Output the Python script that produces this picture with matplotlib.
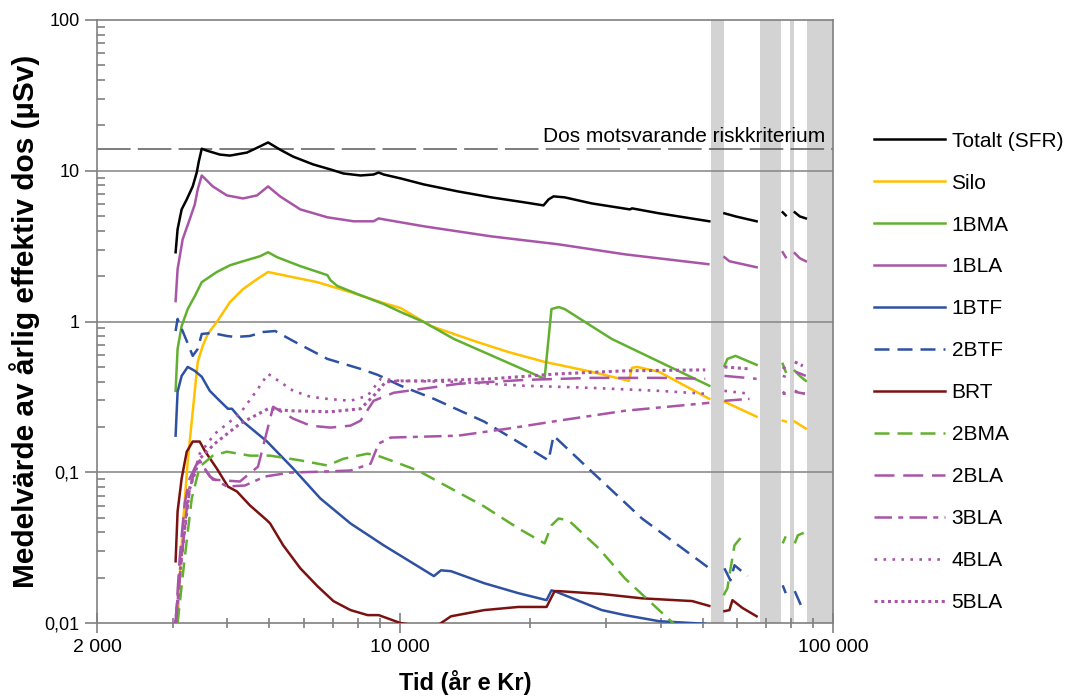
import numpy as np
import matplotlib
matplotlib.use("Agg")
import matplotlib.pyplot as plt
from matplotlib.ticker import FixedLocator, FixedFormatter, NullFormatter

plt.rcParams['font.family'] = ['Liberation Sans', 'DejaVu Sans']

nan = np.nan

# --- data (år e Kr, µSv); nan = gap where the line is interrupted ---
totalt_x = [3038, 3070, 3137, 3223, 3327, 3399, 3436, 3491, 3585, 3843, 4055, 4440, 4758, 4966, 5293,
            5675, 6318, 6917, 7413, 8120, 8702, 8939, 9181, 10050, 11370, 13630, 16260, 19400, 21470,
            22050, 22650, 24020, 27750, 33990, 34360, 39680, 51830, nan, 56160, 59560, 66640, nan,
            76560, 77800, nan, 81620, 83820, 86560]
totalt_y = [2.88, 4.09, 5.54, 6.45, 7.87, 9.73, 11.5, 14.0, 13.6, 12.8, 12.6, 13.2, 14.5, 15.4, 13.8,
            12.4, 11.0, 10.2, 9.59, 9.30, 9.44, 9.73, 9.44, 8.89, 8.11, 7.29, 6.66, 6.17, 5.89,
            6.45, 6.76, 6.66, 6.07, 5.54, 5.63, 5.22, 4.62, nan, 5.22, 4.98, 4.62, nan,
            5.30, 5.06, nan, 5.30, 4.98, 4.83]

silo_x = [3070, 3104, 3154, 3240, 3327, 3417, 3509, 3604, 3781, 4055, 4346, 4683, 4966, 5382, 6454,
          7697, 9181, 10050, 11800, 14850, 17800, 21590, 27750, 33810, 34360, 35290, 39680, 51830, nan,
          56160, 66640, nan, 76560, 77800, nan, 81620, 86560]
silo_y = [0.0103, 0.0198, 0.0425, 0.118, 0.252, 0.540, 0.689, 0.827, 0.992, 1.345, 1.64, 1.91, 2.13,
          2.03, 1.824, 1.566, 1.325, 1.228, 0.934, 0.743, 0.628, 0.540, 0.464, 0.404, 0.493, 0.500,
          0.464, 0.307, nan, 0.294, 0.234, nan, 0.220, 0.217, nan, 0.217, 0.195]

bma1_x = [3038, 3070, 3137, 3240, 3364, 3491, 3781, 4055, 4346, 4758, 4966, 5212, 5894, 6808, 6917,
          7178, 7992, 9181, 10050, 11370, 13340, 21590, 22400, 23260, 24020, 30870, 51830, nan,
          56160, 57060, 59560, 66640, nan, 76560, 77800, nan, 81620, 83820, 86560]
bma1_y = [0.347, 0.658, 0.934, 1.21, 1.474, 1.824, 2.13, 2.36, 2.51, 2.71, 2.88, 2.67, 2.33, 2.03, 1.88,
          1.72, 1.52, 1.306, 1.156, 0.992, 0.766, 0.417, 1.21, 1.247, 1.21, 0.766, 0.375, nan,
          0.508, 0.565, 0.592, 0.516, nan, 0.524, 0.464, nan, 0.471, 0.436, 0.404]

bla1_x = [3038, 3070, 3154, 3274, 3364, 3417, 3491, 3701, 3990, 4346, 4683, 4966, 5293, 5894, 6808,
          7824, 8702, 8939, 9181, 10050, 11370, 16260, 23260, 33090, 51570, nan, 56160, 57680, 66640,
          nan, 76560, 77800, nan, 81620, 83820, 86560]
bla1_y = [1.366, 2.22, 3.51, 4.76, 5.98, 7.52, 9.30, 7.87, 6.86, 6.55, 6.86, 7.87, 6.76, 5.54, 4.91,
          4.62, 4.62, 4.83, 4.76, 4.55, 4.28, 3.67, 3.25, 2.79, 2.40, nan, 2.67, 2.51, 2.29,
          nan, 2.88, 2.67, nan, 2.84, 2.63, 2.51]

btf1_x = [3038, 3070, 3137, 3240, 3364, 3491, 3643, 3801, 4011, 4098, 4346, 4939, 5675, 6557, 7697,
          9181, 11990, 12450, 13130, 15660, 18780, 21820, 22400, 22770, 29270, 33090, 39680, 50730]
btf1_y = [0.175, 0.342, 0.436, 0.500, 0.471, 0.430, 0.347, 0.307, 0.264, 0.264, 0.217, 0.160, 0.106,
          0.0671, 0.0458, 0.0328, 0.0205, 0.0224, 0.0221, 0.0184, 0.0158, 0.0142, 0.0165, 0.0163,
          0.0122, 0.0113, 0.0103, 0.0099]

btf2_x = [3038, 3070, 3223, 3327, 3417, 3491, 3682, 3990, 4165, 4511, 4836, 5157, 5675, 6808, 8120,
          8890, 10050, 11990, 15660, 20460, 22050, 22650, 27750, 36240, 51830, nan, 56160, 57980,
          59250, 63510, nan, 76560, 77800, nan, 81620, 84290]
btf2_y = [0.865, 1.04, 0.743, 0.592, 0.658, 0.827, 0.840, 0.802, 0.790, 0.802, 0.852, 0.865, 0.743,
          0.565, 0.485, 0.443, 0.375, 0.307, 0.217, 0.137, 0.120, 0.175, 0.101, 0.0494, 0.0231, nan,
          0.0231, 0.0192, 0.0242, 0.0205, nan, 0.0178, 0.0158, nan, 0.0163, 0.0132]

brt_x = [3038, 3070, 3137, 3223, 3327, 3453, 3547, 3781, 4011, 4209, 4511, 4939, 5020, 5382, 5894,
         6454, 7028, 7697, 8430, 8939, 10050, 11010, 12250, 13130, 15660, 18780, 21820, 22770, 23260,
         29270, 36240, 47330, 51830, nan, 56160, 57680, 58610, 61830, 66640]
brt_y = [0.0257, 0.055, 0.091, 0.137, 0.160, 0.160, 0.139, 0.106, 0.0805, 0.0746, 0.0603, 0.048,
         0.0458, 0.0328, 0.0231, 0.0176, 0.0140, 0.0122, 0.0113, 0.0113, 0.0100, 0.0096, 0.0097,
         0.0111, 0.0122, 0.0128, 0.0128, 0.0163, 0.0163, 0.0156, 0.0146, 0.0140, 0.0130, nan,
         0.0120, 0.0122, 0.0142, 0.0126, 0.0111]

bma2_x = [3070, 3188, 3310, 3453, 3701, 3990, 4511, 5020, 5894, 6808, 7413, 8430, 8890, 9530, 11010,
          13130, 15660, 18780, 21590, 22400, 23260, 24540, 28800, 33090, 43230, nan, 55900, 57060,
          57680, 59250, 62490, nan, 76560, 77800, nan, 81620, 82950, 86100]
bma2_y = [0.0100, 0.0269, 0.0671, 0.109, 0.129, 0.137, 0.129, 0.129, 0.120, 0.111, 0.123, 0.133,
          0.129, 0.120, 0.1028, 0.0781, 0.0594, 0.0425, 0.0338, 0.0445, 0.0494, 0.048, 0.0313,
          0.0198, 0.0097, nan, 0.0153, 0.0170, 0.0208, 0.0328, 0.0394, nan, 0.0338, 0.0376, nan,
          0.0338, 0.0382, 0.0400]

bla2_x = [3038, 3104, 3188, 3274, 3399, 3509, 3701, 4276, 4707, 5102, 5675, 6217, 6917, 7697, 8120,
          8702, 9685, 13630, 19400, 27750, 39680, 50730, nan, 56160, 66640, nan, 76560, 77800, nan,
          82080, 86560]
bla2_y = [0.0100, 0.0269, 0.0621, 0.091, 0.114, 0.109, 0.0895, 0.0869, 0.109, 0.272, 0.227, 0.204,
          0.198, 0.204, 0.220, 0.298, 0.337, 0.386, 0.410, 0.423, 0.423, 0.417, nan, 0.436, 0.417,
          nan, 0.436, 0.430, nan, 0.464, 0.436]

bla3_x = [3038, 3137, 3240, 3364, 3453, 3643, 3990, 4393, 4886, 5586, 6557, 7697, 8563, 8939, 9530,
          13630, 17800, 23260, 33090, 51830, nan, 56160, 64190, nan, 76560, 77800, nan, 81620, 86100]
bla3_y = [0.0100, 0.0269, 0.0671, 0.106, 0.120, 0.0938, 0.0805, 0.0818, 0.0938, 0.0996, 0.101,
          0.1028, 0.114, 0.155, 0.170, 0.175, 0.195, 0.220, 0.256, 0.289, nan, 0.298, 0.307, nan,
          0.332, 0.332, nan, 0.342, 0.332]

bla4_x = [3038, 3137, 3274, 3453, 3741, 4276, 4707, 4966, 5293, 5675, 6217, 6808, 7697, 8430, 9035,
          10050, 13630, 19400, 27750, 39680, 50730, nan, 56160, 64190, nan, 76560, 77800, nan,
          81620, 86100]
bla4_y = [0.0100, 0.0269, 0.0781, 0.133, 0.180, 0.245, 0.358, 0.450, 0.398, 0.347, 0.317, 0.307,
          0.298, 0.322, 0.417, 0.404, 0.398, 0.375, 0.363, 0.347, 0.332, nan, 0.347, 0.332, nan,
          0.342, 0.330, nan, 0.347, 0.332]

bla5_x = [3038, 3137, 3274, 3453, 3741, 4276, 4966, 5586, 6917, 8120, 8796, 9279, 10050, 11370,
          16260, 23260, 33090, 50730, nan, 56160, 64190, nan, 76560, 77800, nan, 81620, 85200]
bla5_y = [0.0100, 0.0289, 0.0781, 0.123, 0.155, 0.210, 0.264, 0.256, 0.252, 0.264, 0.332, 0.398,
          0.404, 0.404, 0.417, 0.450, 0.471, 0.478, nan, 0.500, 0.485, nan, 0.500, 0.485, nan,
          0.540, 0.508]

risk_level = 14.0
grey_bands = [(52400, 56000), (68000, 75700), (79400, 81200), (87000, 100000)]

fig = plt.figure(figsize=(10.69, 6.97), dpi=100)
ax = fig.add_axes([0.0907, 0.106, 0.6885, 0.8654])

for lo, hi in grey_bands:
    ax.axvspan(lo, hi, color='#d3d3d3', lw=0, zorder=0.5)

for yv in [0.1, 1, 10]:
    ax.axhline(yv, color='#8c8c8c', lw=1.2, zorder=1)
ax.axhline(risk_level, color='#595959', lw=1.1, ls=(0, (22, 4.7)), zorder=1.5)
ax.text(96000, 15.5, 'Dos motsvarande riskkriterium', ha='right', va='baseline', fontsize=15)

lw = 1.8
series = [
    (totalt_x, totalt_y, 'Totalt (SFR)', 'black', '-', lw),
    (silo_x, silo_y, 'Silo', '#ffc000', '-', lw),
    (bma1_x, bma1_y, '1BMA', '#62b030', '-', lw),
    (bla1_x, bla1_y, '1BLA', '#a855a8', '-', lw),
    (btf1_x, btf1_y, '1BTF', '#2e51a2', '-', lw),
    (btf2_x, btf2_y, '2BTF', '#2e51a2', (0, (6, 3.2)), lw),
    (brt_x, brt_y, 'BRT', '#7b1212', '-', lw),
    (bma2_x, bma2_y, '2BMA', '#62b030', (0, (6, 3.2)), lw),
    (bla2_x, bla2_y, '2BLA', '#a855a8', (0, (8, 3.5)), lw),
    (bla3_x, bla3_y, '3BLA', '#a855a8', (0, (7, 2.5, 2, 2.5)), lw),
    (bla4_x, bla4_y, '4BLA', '#a855a8', (0, (1, 2.4)), 1.9),
    (bla5_x, bla5_y, '5BLA', '#a855a8', (0, (1, 1.2)), 2.2),
]
for xs, ys, label, color, ls, w in series:
    ax.plot(xs, ys, color=color, ls=ls, lw=w, label=label, zorder=3)

ax.set_xscale('log')
ax.set_yscale('log')
ax.set_xlim(2000, 100000)
ax.set_ylim(0.01, 100)

ax.xaxis.set_major_locator(FixedLocator([2000, 10000, 100000]))
ax.xaxis.set_major_formatter(FixedFormatter(['2 000', '10 000', '100 000']))
xminor = [k * 10 ** e for e in (3, 4) for k in range(2, 10)]
ax.xaxis.set_minor_locator(FixedLocator(xminor))
ax.xaxis.set_minor_formatter(NullFormatter())

ax.yaxis.set_major_locator(FixedLocator([0.01, 0.1, 1, 10, 100]))
ax.yaxis.set_major_formatter(FixedFormatter(['0,01', '0,1', '1', '10', '100']))
yminor = [k * 10.0 ** e for e in (-2, -1, 0, 1) for k in range(2, 10)]
ax.yaxis.set_minor_locator(FixedLocator(yminor))
ax.yaxis.set_minor_formatter(NullFormatter())

ax.tick_params(axis='x', which='major', direction='inout', length=15, width=1.2, colors='#808080',
               labelcolor='black', labelsize=14, pad=4)
ax.tick_params(axis='x', which='minor', direction='inout', length=7, width=1.2, colors='#808080')
ax.tick_params(axis='y', which='major', direction='out', length=9, width=1.2, colors='#808080',
               labelcolor='black', labelsize=13)
ax.tick_params(axis='y', which='minor', direction='in', length=6, width=1.2, colors='#808080')

for sp in ax.spines.values():
    sp.set_color('#808080')
    sp.set_linewidth(1.2)

ax.set_xlabel('Tid (år e Kr)', fontsize=17, fontweight='bold', labelpad=10)
ax.set_ylabel('Medelvärde av årlig effektiv dos (µSv)', fontsize=21.5, fontweight='bold', labelpad=3)

fig.legend(loc='upper left', bbox_to_anchor=(0.818, 0.811), frameon=False, fontsize=15,
           handlelength=3.4, handletextpad=0.3, labelspacing=1.1, borderpad=0, borderaxespad=0)

fig.savefig('out.png', dpi=100)
